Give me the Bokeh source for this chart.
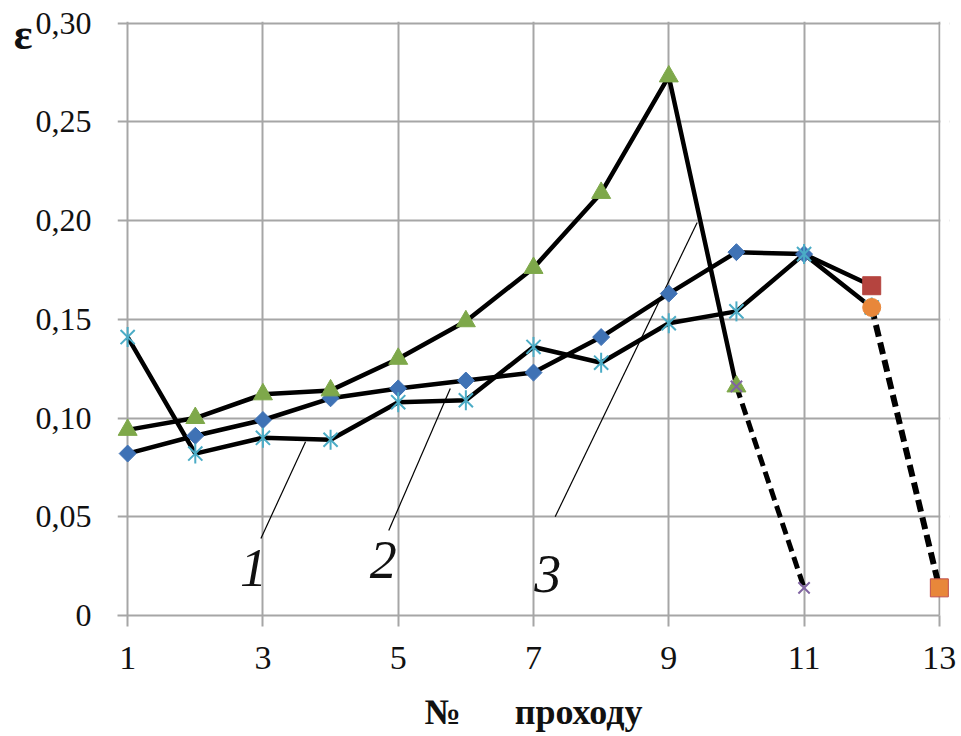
import math
from bokeh.plotting import figure
from bokeh.models import (FixedTicker, CustomJSTickFormatter, ColumnDataSource,
                          LinearAxis, BoxAnnotation)
from bokeh.core.properties import value
from bokeh.embed import file_html
from bokeh.resources import INLINE

# ---- data ----
passes_1 = [1, 2, 3, 4, 5, 6, 7, 8, 9, 10, 11, 12]
eps_1 = [0.141, 0.082, 0.090, 0.089, 0.108, 0.109, 0.136, 0.128, 0.148, 0.154, 0.183, 0.156]

passes_2 = [1, 2, 3, 4, 5, 6, 7, 8, 9, 10, 11, 12]
eps_2 = [0.082, 0.091, 0.099, 0.110, 0.115, 0.119, 0.123, 0.141, 0.163, 0.184, 0.183, 0.167]

passes_3 = [1, 2, 3, 4, 5, 6, 7, 8, 9, 10]
eps_3 = [0.094, 0.100, 0.112, 0.114, 0.130, 0.149, 0.176, 0.214, 0.273, 0.116]

dash_a_x = [10, 11]
dash_a_y = [0.116, 0.014]
dash_b_x = [12, 13]
dash_b_y = [0.156, 0.014]

x_ticks = [1, 3, 5, 7, 9, 11, 13]
y_ticks = [0, 0.05, 0.10, 0.15, 0.20, 0.25, 0.30]
x_first, x_last = 1, 13

curve_labels = ["1", "2", "3"]
curve_label_x = [2.86, 4.78, 7.21]
curve_label_y = [0.024, 0.028, 0.021]
leader_x0 = [2.97, 4.86, 7.32]
leader_y0 = [0.039, 0.043, 0.050]
leader_x1 = [3.63, 5.77, 9.42]
leader_y1 = [0.088, 0.115, 0.199]

eps_label_pos = [0.294]

GRID = "#a6a6a6"
SERIF = "Liberation Serif"
TXT = "#111111"

p = figure(width=958, height=734, x_range=(0.85, 13.15), y_range=(0, 0.3008),
           output_backend="svg", toolbar_location=None,
           min_border_left=117, min_border_right=9, min_border_top=21, min_border_bottom=119)
p.outline_line_color = None

# x axis
xa = p.xaxis[0]
xa.ticker = FixedTicker(ticks=x_ticks)
xa.bounds = (0.85, x_last)
xa.axis_line_color = GRID
xa.axis_line_width = 2
xa.major_tick_line_color = GRID
xa.major_tick_line_width = 2
xa.major_tick_in = 0
xa.major_tick_out = 11
xa.minor_tick_line_color = None
xa.major_label_text_font = SERIF
xa.major_label_text_font_size = "34px"
xa.major_label_text_color = TXT
xa.major_label_standoff = 20
xa.axis_label = "№" + "\u00a0" * 6 + "проходу"
xa.axis_label_text_font = SERIF
xa.axis_label_text_font_size = "36px"
xa.axis_label_text_font_style = "bold"
xa.axis_label_text_color = TXT
xa.axis_label_standoff = 20

# y axis (its line and ticks are drawn by the grid at x = 1)
ya = p.yaxis[0]
ya.ticker = FixedTicker(ticks=y_ticks)
ya.formatter = CustomJSTickFormatter(code="return tick == 0 ? '0' : tick.toFixed(2).replace('.', ',');")
ya.axis_line_color = None
ya.major_tick_line_color = None
ya.minor_tick_line_color = None
ya.major_label_text_font = SERIF
ya.major_label_text_font_size = "32px"
ya.major_label_text_color = TXT
ya.major_label_standoff = 20

# epsilon symbol at the top-left
ea = LinearAxis(ticker=FixedTicker(ticks=eps_label_pos),
                formatter=CustomJSTickFormatter(code="return 'ε';"),
                axis_line_color=None, major_tick_line_color=None, minor_tick_line_color=None,
                major_tick_in=0, major_tick_out=0,
                major_label_text_font=SERIF, major_label_text_font_style="bold",
                major_label_text_font_size="44px", major_label_text_color=TXT,
                major_label_standoff=0)
p.add_layout(ea, "left")

p.xgrid.ticker = FixedTicker(ticks=x_ticks)
p.ygrid.ticker = FixedTicker(ticks=y_ticks)
p.xgrid.grid_line_color = GRID
p.xgrid.grid_line_width = 2
p.ygrid.grid_line_color = GRID
p.ygrid.grid_line_width = 2

# hide grid beyond the last pass
p.add_layout(BoxAnnotation(left=x_last + 0.016, fill_color="white", fill_alpha=1,
                           line_color=None, level="underlay"))

# leader lines
p.segment(leader_x0, leader_y0, leader_x1, leader_y1, line_color="black", line_width=1.2)

# lines
p.line(passes_3, eps_3, line_color="black", line_width=4.5)
p.line(passes_2, eps_2, line_color="black", line_width=4.5)
p.line(passes_1, eps_1, line_color="black", line_width=4.5)
p.line(dash_a_x, dash_a_y, line_color="black", line_width=5, line_dash="12 6")
p.line(dash_b_x, dash_b_y, line_color="black", line_width=6, line_dash="12 6")

# markers
p.scatter(passes_2[:11], eps_2[:11], marker="square", angle=math.pi / 4, size=12,
          fill_color="#3f72b5", line_color="#3f72b5")
p.scatter(passes_3, eps_3, marker="triangle", size=19, fill_color="#7ea84a", line_color="#7ea84a")
p.scatter(passes_1, eps_1, marker="x", size=20, line_color="#4bacc6", line_width=2)
p.scatter(passes_1, eps_1, marker="dash", angle=math.pi / 2, size=20, line_color="#4bacc6", line_width=2)
p.scatter(dash_a_x, dash_a_y, marker="x", size=16, line_color="#8064a2", line_width=2)
p.scatter(passes_2[11:], eps_2[11:], marker="square", size=18, fill_color="#b5443f", line_color="#b5443f")
p.scatter(dash_b_x[:1], dash_b_y[:1], marker="circle", size=18, fill_color="#e8873a", line_color="#e8873a")
p.scatter(dash_b_x[1:], dash_b_y[1:], marker="square", size=18, fill_color="#e8873a", line_color="#c0504d")

# curve numbers
src = ColumnDataSource(dict(x=curve_label_x, y=curve_label_y, t=curve_labels))
p.text(x="x", y="y", text="t", source=src, text_font=value(SERIF), text_font_style="italic",
       text_font_size="54px", text_align="center", text_baseline="middle", text_color=TXT)

open("out.html", "w").write(file_html(p, INLINE))
